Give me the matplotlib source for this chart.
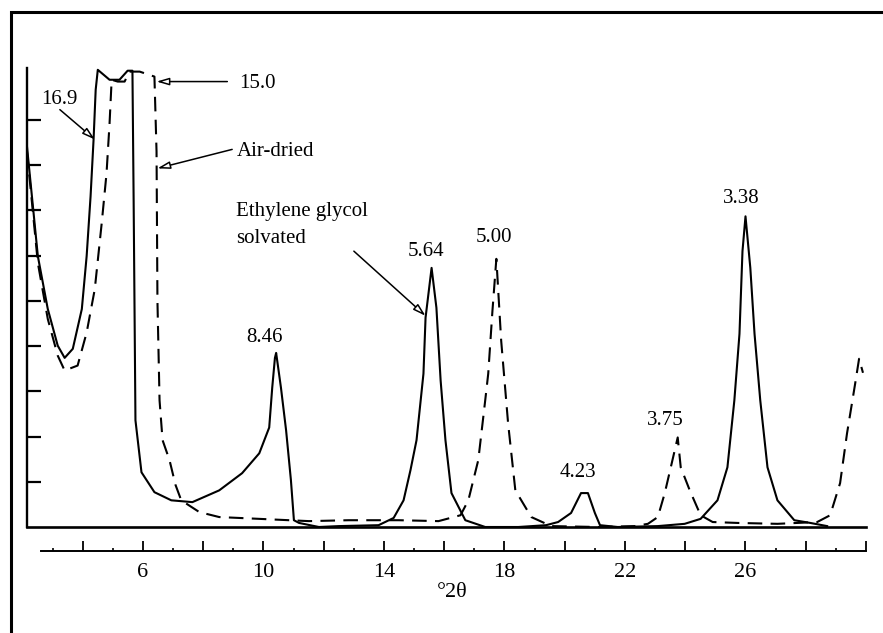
import matplotlib
matplotlib.use("Agg")
import matplotlib.pyplot as plt
from matplotlib.patches import Rectangle

plt.rcParams['font.family'] = ['Liberation Serif', 'DejaVu Serif']

# ethylene glycol solvated trace (solid): deg 2theta / relative intensity
eg_2theta = [2.15, 2.51, 2.84, 3.17, 3.40, 3.67, 3.97, 4.13, 4.26, 4.36, 4.43, 4.50,
             4.89, 5.22, 5.49, 5.65, 5.69, 5.75, 5.95, 6.38, 6.94, 7.64, 8.53, 9.29,
             9.86, 10.19, 10.29, 10.38, 10.42, 10.58, 10.75, 10.91, 11.01, 11.18, 11.84,
             12.50, 13.82, 14.32, 14.65, 14.88, 15.08, 15.31, 15.38, 15.58, 15.74, 15.88,
             16.04, 16.24, 16.70, 17.36, 18.46, 19.38, 19.78, 20.21, 20.54, 20.77, 21.00,
             21.17, 21.76, 23.09, 23.98, 24.51, 25.07, 25.40, 25.63, 25.80, 25.90, 26.00,
             26.16, 26.30, 26.49, 26.73, 27.06, 27.62, 28.15, 28.71]
eg_counts = [8.41, 5.99, 4.82, 4.01, 3.74, 3.94, 4.82, 5.99, 7.31, 8.57, 9.67, 10.11,
             9.89, 9.89, 10.09, 10.09, 7.20, 2.36, 1.21, 0.77, 0.59, 0.55, 0.81, 1.19,
             1.63, 2.20, 3.08, 3.74, 3.85, 3.08, 2.14, 1.04, 0.15, 0.09, 0.00,
             0.02, 0.04, 0.20, 0.59, 1.26, 1.92, 3.39, 4.63, 5.73, 4.85, 3.24,
             1.92, 0.75, 0.15, 0.00, 0.00, 0.04, 0.11, 0.31, 0.75, 0.75, 0.31,
             0.04, 0.00, 0.02, 0.07, 0.18, 0.59, 1.32, 2.80, 4.27, 6.10, 6.87,
             5.73, 4.27, 2.80, 1.32, 0.59, 0.15, 0.09, 0.02]

# air-dried trace (dashed)
ad_2theta = [2.15, 2.51, 2.84, 3.17, 3.40, 3.83, 4.13, 4.40, 4.63, 4.79, 4.89, 4.96,
             5.16, 5.39, 5.55, 5.89, 6.38, 6.45, 6.48, 6.55, 6.65, 6.88, 7.08, 7.27,
             7.87, 8.53, 9.86, 10.85, 11.51, 12.83, 14.49, 15.81, 16.54, 16.80, 17.13,
             17.36, 17.46, 17.60, 17.73, 17.89, 18.12, 18.36, 18.89, 19.55, 21.10, 22.33,
             22.76, 23.09, 23.32, 23.52, 23.75, 23.85, 24.15, 24.51, 24.91, 25.73, 27.06,
             28.38, 28.81, 29.14, 29.37, 29.64, 29.77, 29.90]
ad_counts = [8.30, 5.84, 4.60, 3.79, 3.46, 3.57, 4.30, 5.26, 6.72, 7.82, 8.92, 9.89,
             9.85, 9.85, 10.07, 10.07, 9.96, 8.30, 5.00, 2.80, 1.92, 1.48, 0.93, 0.59,
             0.33, 0.22, 0.18, 0.15, 0.13, 0.15, 0.15, 0.13, 0.26, 0.59, 1.48,
             2.80, 3.39, 4.78, 5.93, 4.12, 2.29, 0.81, 0.22, 0.02, 0.00, 0.02,
             0.07, 0.22, 0.75, 1.32, 1.98, 1.32, 0.81, 0.26, 0.11, 0.09, 0.07,
             0.11, 0.26, 0.97, 2.07, 3.17, 3.72, 3.41]

# d-spacings (angstrom) written above the peaks
peak_labels = ["8.46", "5.64", "5.00", "4.23", "3.75", "3.38"]

x_ticks = [4, 6, 8, 10, 12, 14, 16, 18, 20, 22, 24, 26, 28, 30]
x_tick_labels = ["", "6", "", "10", "", "14", "", "18", "", "22", "", "26", "", ""]
y_ticks = [1, 2, 3, 4, 5, 6, 7, 8, 9]

W, H = 883, 633
fig = plt.figure(figsize=(W / 100, H / 100), dpi=100)
ax = fig.add_axes([27 / W, (H - 527) / H, (866 - 27) / W, (527 - 68) / H])

ax.plot(eg_2theta, eg_counts, color='black', lw=1.5)
ax.plot(ad_2theta, ad_counts, color='black', lw=1.5, linestyle=(0, (7, 4)))
ax.axhline(0, color='black', lw=1.9, clip_on=False)

ax.set_xlim(2.15, 29.9)
ax.set_ylim(0, 10.15)

for s in ['top', 'right']:
    ax.spines[s].set_visible(False)
ax.spines['left'].set_linewidth(1.7)
ax.spines['bottom'].set_position(('outward', 17))
ax.spines['bottom'].set_bounds(2.6, 30.0)
ax.spines['bottom'].set_linewidth(1.4)

ax.set_xticks(x_ticks)
ax.set_xticklabels(x_tick_labels)
ax.set_xticks(range(3, 30, 2), minor=True)
ax.tick_params(axis='x', which='major', direction='in', length=7, width=1.3,
               labelsize=16, pad=9)
ax.tick_params(axis='x', which='minor', direction='in', length=2.5, width=1.2)
ax.set_yticks(y_ticks)
ax.set_yticklabels([])
ax.tick_params(axis='y', direction='in', length=10, width=1.6)

ax.set_xlabel("°2θ", fontsize=16)
ax.xaxis.set_label_coords((452 - 27) / 839, -0.122)

# peak labels
label_pos = [(10.05, 4.19), (15.41, 6.10), (17.66, 6.41), (20.44, 1.21), (23.35, 2.36), (25.87, 7.27)]
for lab, (px, py) in zip(peak_labels, label_pos):
    ax.text(px, py, lab, fontsize=15, ha='center', va='center')

arrow = dict(arrowstyle='-|>,head_length=0.75,head_width=0.22', fc='white', ec='black',
             lw=1.1, shrinkA=0, shrinkB=0)
ax.text(3.24, 9.45, "16.9", fontsize=15, ha='center', va='center')
ax.annotate('', xy=(4.40, 8.57), xytext=(3.24, 9.23), arrowprops=arrow)
ax.text(9.19, 9.80, "15.0", fontsize=15, ha='left', va='center')
ax.annotate('', xy=(6.45, 9.85), xytext=(8.80, 9.85), arrowprops=arrow)
ax.text(9.13, 8.30, "Air-dried", fontsize=15, ha='left', va='center')
ax.annotate('', xy=(6.48, 7.93), xytext=(8.96, 8.35), arrowprops=arrow)
ax.text(9.09, 6.98, "Ethylene glycol", fontsize=15, ha='left', va='center')
ax.text(9.09, 6.39, "solvated", fontsize=15, ha='left', va='center')
ax.annotate('', xy=(15.38, 4.67), xytext=(13.0, 6.10), arrowprops=arrow)

# outer frame of the scanned figure (only top and left edges fall inside the image)
fig.add_artist(Rectangle((11 / W, -0.1), 1.2, (H - 12) / H + 0.1, transform=fig.transFigure,
                         fill=False, ec='black', lw=2.2))

fig.savefig("out.png", dpi=100)
